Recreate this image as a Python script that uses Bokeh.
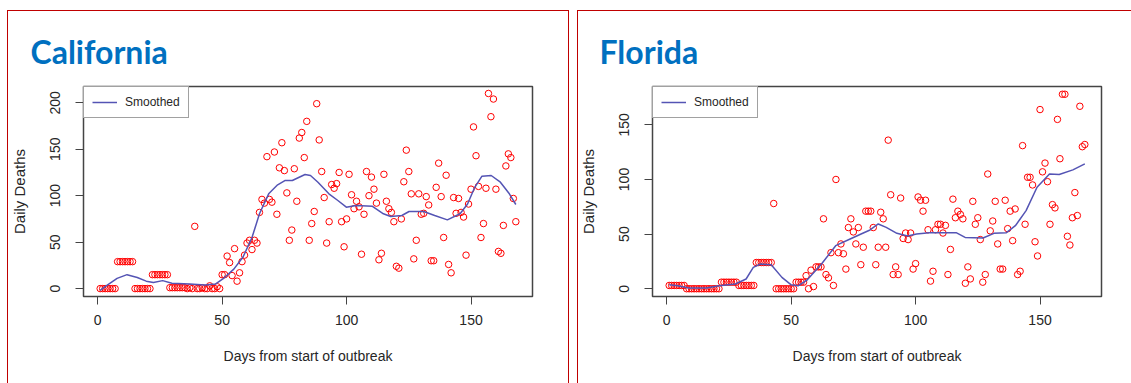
from bokeh.plotting import figure
from bokeh.models import Range1d, FixedTicker, InlineStyleSheet
from bokeh.layouts import row
from bokeh.embed import file_html
from bokeh.resources import INLINE

# ---------------- data ----------------
days = list(range(1, 169))

ca_deaths = ([0] * 7 + [29] * 7 + [0] * 7 + [15] * 7 + [1] * 7 +
             [0, 1, 0, 67, 0, 0, 1, 0, 0, 3, 0, 0, 2, 0] +
             [15, 15, 35, 28, 14, 43, 8, 17, 29, 36,
              49, 52, 42, 52, 49, 82, 96, 92, 142, 96,
              93, 147, 80, 130, 157, 127, 103, 52, 63, 129,
              94, 162, 168, 141, 180, 52, 70, 83, 199, 160,
              126, 98, 49, 72, 112, 108, 113, 125, 72, 45,
              75, 123, 101, 86, 94, 88, 37, 80, 126, 100,
              120, 107, 92, 31, 38, 123, 94, 86, 82, 72,
              24, 22, 75, 115, 149, 126, 102, 32, 52, 102,
              80, 81, 99, 90, 30, 30, 109, 135, 99, 55,
              122, 26, 17, 98, 81, 97, 82, 77, 36, 91,
              107, 174, 143, 110, 55, 70, 108, 210, 185, 204,
              107, 40, 38, 68, 132, 145, 141, 97, 72])

fl_deaths = ([3] * 7 + [0] * 14 + [6] * 7 + [3] * 7 + [24] * 7 + [78] + [0] * 7 +
             [0, 6, 6, 6, 6, 12, 0, 17, 2, 20,
              20, 20, 64, 13, 10, 33, 3, 100, 33, 41,
              32, 18, 56, 64, 52, 41, 56, 22, 38, 71,
              71, 71, 56, 22, 38, 70, 64, 38, 136, 86,
              13, 20, 13, 83, 46, 51, 45, 51, 18, 23,
              84, 81, 71, 81, 54, 7, 16, 54, 59, 59,
              51, 58, 13, 36, 82, 65, 71, 68, 64, 5,
              20, 9, 80, 59, 65, 45, 6, 13, 105, 53,
              62, 80, 41, 18, 18, 81, 55, 71, 44, 73,
              13, 16, 131, 59, 102, 102, 95, 43, 30, 164,
              107, 115, 98, 59, 77, 74, 155, 119, 178, 178,
              48, 40, 65, 88, 67, 167, 130, 132])

ca_smooth_days = [1, 3.4, 7.8, 11.8, 15.9, 19.5, 22.4, 26.1, 29.8, 37, 43, 47.4, 50.3,
                  54.7, 58.4, 62, 65, 68.7, 72.3, 75.2, 78.2, 83.3, 85.5, 88.5, 92.9,
                  96.5, 99.9, 103.8, 110.4, 114.8, 117.7, 122.2, 125.1, 131, 135.4,
                  140.5, 145.6, 148.6, 151.5, 154.4, 158.1, 161.8, 165.4, 168]
ca_smooth = [-2, 3, 11, 15, 12, 8, 6.5, 8.6, 5.7, 5, 4, 5, 10.4,
             21, 34, 55, 80.5, 102, 111.7, 116.3, 116.3, 122.8, 121.7, 114.5, 102,
             94.8, 87.6, 89.4, 88.5, 80.5, 77.6, 78.7, 83, 83, 78.7,
             74, 80.5, 91, 109, 121, 121.7, 114.5, 102, 90.5]

fl_smooth_days = [1, 4.5, 8.8, 16, 21.1, 27.6, 31.9, 34.8, 37.7, 42, 46.3, 49.9, 52.8,
                  56.4, 62.2, 67.9, 73.7, 78.1, 81.7, 85, 88.2, 92.5, 96.8, 100.4,
                  105.5, 111.3, 116.3, 119.9, 127.1, 131.5, 136.5, 140.1, 144.4,
                  148.8, 153.8, 157.7, 163.2, 168]
fl_smooth = [3.7, 2.7, 0.6, 0.6, 2.7, 4.3, 8.9, 19.5, 22.6, 22, 10.4, 3.7, 2.7,
             8, 22.6, 39.4, 45.5, 50.1, 53.8, 59.3, 56.2, 50.7, 48.3, 50.1,
             51.3, 51.3, 51.3, 47, 46.5, 50.7, 51.3, 57.7, 71.5,
             92.9, 105.1, 104.5, 108.8, 114.3]

x_ticks = [0, 50, 100, 150]
ca_y_ticks = [0, 50, 100, 150, 200]
fl_y_ticks = [0, 50, 100, 150]

TXT = "#262626"
AXFONT = "Liberation Sans"


def make_panel(title, deaths, sx, sy, y_lo, y_hi, y_ticks, width, f_left, f_right,
               box_left, box_width, title_offset):
    frame_css = InlineStyleSheet(css=(
        ":host::after { content: ''; position: absolute; pointer-events: none; "
        "left: %dpx; top: 10px; width: %dpx; height: 420px; "
        "border: 1.5px solid #C00000; box-sizing: border-box; }" % (box_left, box_width)))
    p = figure(width=width, height=383,
               x_range=Range1d(-5.7, 174.7), y_range=Range1d(y_lo, y_hi),
               output_backend="svg", toolbar_location=None, tools="",
               min_border_left=f_left, min_border_right=width - f_right,
               min_border_top=86, min_border_bottom=87,
               stylesheets=[frame_css])
    p.xgrid.visible = False
    p.ygrid.visible = False
    p.background_fill_color = "white"
    p.border_fill_color = "white"
    p.outline_line_color = "#444444"
    p.outline_line_width = 1.5

    p.title.text = title
    p.title.align = "left"
    p.title.offset = title_offset
    p.title.standoff = 31
    p.title.text_font = "Lato"
    p.title.text_font_style = "bold"
    p.title.text_font_size = "32px"
    p.title.text_color = "#0070C0"

    for ax, ticks in ((p.xaxis[0], x_ticks), (p.yaxis[0], y_ticks)):
        ax.ticker = FixedTicker(ticks=ticks)
        ax.minor_tick_line_color = None
        ax.major_tick_in = 0
        ax.major_tick_out = 8
        ax.major_tick_line_color = "#444444"
        ax.axis_line_color = None
        ax.major_label_text_font = AXFONT
        ax.major_label_text_font_size = "14px"
        ax.major_label_text_color = TXT
        ax.axis_label_text_font = AXFONT
        ax.axis_label_text_font_style = "normal"
        ax.axis_label_text_color = TXT

    xa = p.xaxis[0]
    xa.axis_label = "Days from start of outbreak"
    xa.axis_label_text_font_size = "14px"
    xa.major_label_standoff = 10
    xa.axis_label_standoff = 20

    ya = p.yaxis[0]
    ya.axis_label = "Daily Deaths"
    ya.axis_label_text_font_size = "15px"
    ya.major_label_orientation = "vertical"
    ya.major_label_standoff = 15
    ya.axis_label_standoff = 20

    p.scatter(days, deaths, marker="circle", size=6.5, fill_color=None,
              line_color="#FF0000", line_width=1)
    p.line(sx, sy, line_color="#5454B4", line_width=1.5, legend_label="Smoothed")

    lg = p.legend[0]
    lg.location = "top_left"
    lg.margin = 0
    lg.padding = 8
    lg.spacing = 0
    lg.glyph_width = 25
    lg.glyph_height = 12
    lg.label_height = 12
    lg.label_standoff = 8
    lg.border_line_color = "#444444"
    lg.border_line_width = 1
    lg.background_fill_color = "white"
    lg.background_fill_alpha = 1
    lg.label_text_font = AXFONT
    lg.label_text_font_size = "12px"
    lg.label_text_color = TXT
    return p


W1 = 572
p1 = make_panel("California", ca_deaths, ca_smooth_days, ca_smooth, -8.5, 217.5, ca_y_ticks,
                W1, 83, 532, 7, 562, -53)
p2 = make_panel("Florida", fl_deaths, fl_smooth_days, fl_smooth, -7.1, 185.1, fl_y_ticks,
                1131 - W1, 80, 529, 5, 700, -53)

layout = row(p1, p2)
open("out.html", "w").write(file_html(layout, INLINE))
